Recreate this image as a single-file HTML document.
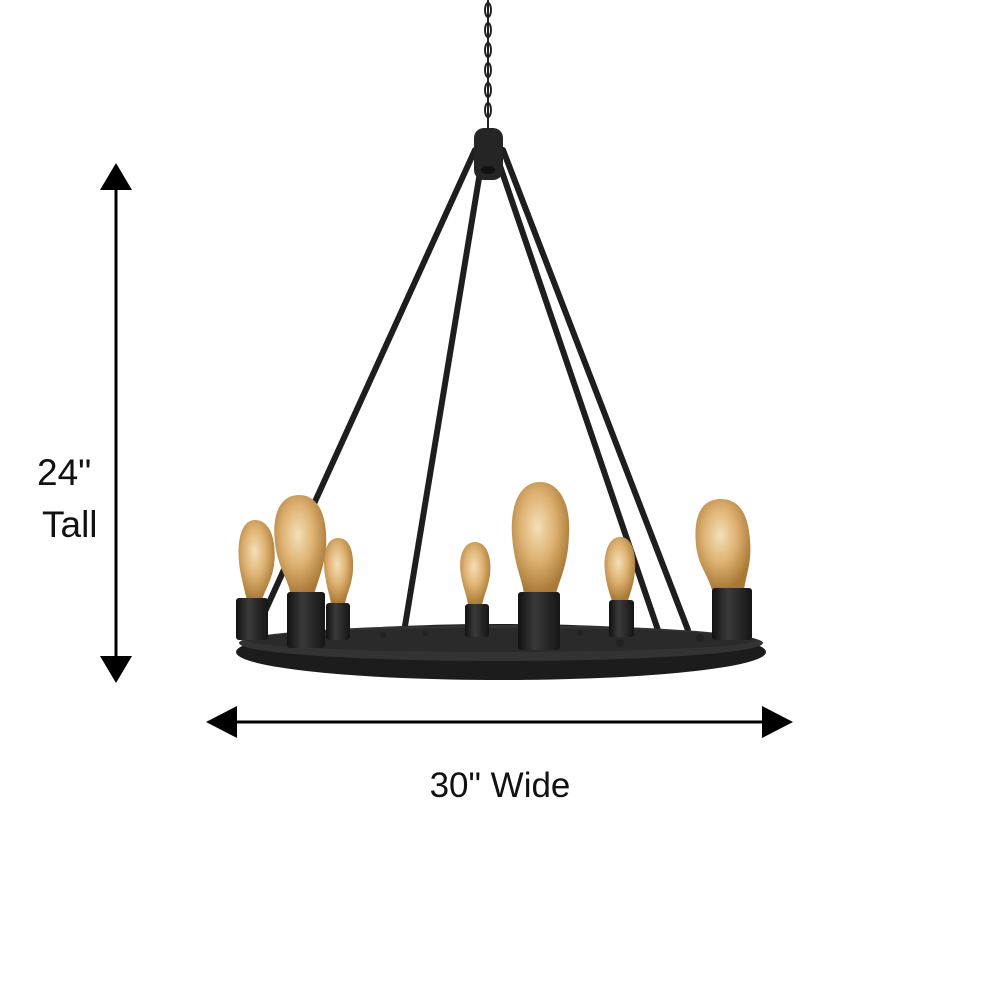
<!DOCTYPE html>
<html><head><meta charset="utf-8"><style>
html,body{margin:0;padding:0;background:#fff}
svg{display:block}
text{font-family:"Liberation Sans",sans-serif;fill:#111}
</style></head><body>
<svg width="1000" height="1000" viewBox="0 0 1000 1000" xmlns="http://www.w3.org/2000/svg">
<defs>
<radialGradient id="bulb" cx="45%" cy="40%" r="60%">
<stop offset="0" stop-color="#f3e0b8"/><stop offset="0.5" stop-color="#deb272"/><stop offset="1" stop-color="#a97835"/>
</radialGradient>
<linearGradient id="sock" x1="0" x2="1"><stop offset="0" stop-color="#111"/><stop offset="0.4" stop-color="#3a3a3a"/><stop offset="1" stop-color="#151515"/></linearGradient>
</defs>
<g stroke="#222" stroke-width="2" fill="none">
<line x1="488" y1="0" x2="488" y2="130"/>
<ellipse cx="488" cy="10" rx="3" ry="7"/><ellipse cx="488" cy="30" rx="3" ry="7"/><ellipse cx="488" cy="50" rx="3" ry="7"/><ellipse cx="488" cy="70" rx="3" ry="7"/><ellipse cx="488" cy="90" rx="3" ry="7"/><ellipse cx="488" cy="110" rx="3" ry="7"/>
</g>
<g stroke="#1e1e1e" stroke-width="6" stroke-linecap="round">
<line x1="475" y1="150" x2="252" y2="640"/>
<line x1="482" y1="160" x2="404" y2="632"/>
<line x1="498" y1="160" x2="660" y2="636"/>
<line x1="503" y1="150" x2="688" y2="630"/>
</g>
<rect x="474" y="128" width="29" height="52" rx="10" fill="#252525"/>
<ellipse cx="488" cy="170" rx="7" ry="4" fill="#111"/>
<ellipse cx="501" cy="652" rx="265" ry="28" fill="#1c1c1c"/>
<ellipse cx="501" cy="643" rx="262" ry="18" fill="#333"/>
<ellipse cx="501" cy="640" rx="255" ry="12" fill="#2a2a2a"/>
<g>
<path d="M255 520 C240 520 236 545 240 570 C243 585 245 592 247 600 L262 600 C265 590 272 580 274 565 C277 540 270 520 255 520 Z" fill="url(#bulb)"/>
<rect x="236" y="598" width="32" height="42" rx="3" fill="url(#sock)"/>
<path d="M299 495 C280 495 270 515 276 550 C280 570 288 580 291 595 L314 595 C318 580 324 568 326 548 C328 515 318 495 299 495 Z" fill="url(#bulb)"/>
<rect x="287" y="592" width="38" height="56" rx="3" fill="url(#sock)"/>
<path d="M338 538 C326 538 322 555 325 575 C327 590 330 595 331 604 L345 604 C347 593 352 585 353 570 C354 552 350 538 338 538 Z" fill="url(#bulb)"/>
<rect x="326" y="603" width="24" height="37" rx="3" fill="url(#sock)"/>
<path d="M475 542 C463 542 458 558 461 575 C463 588 467 595 468 605 L482 605 C484 595 488 588 490 575 C492 558 487 542 475 542 Z" fill="url(#bulb)"/>
<rect x="465" y="604" width="24" height="33" rx="3" fill="url(#sock)"/>
<path d="M540 482 C520 482 510 505 512 535 C514 565 522 578 524 594 L556 594 C560 578 568 565 569 535 C571 505 560 482 540 482 Z" fill="url(#bulb)"/>
<rect x="518" y="592" width="42" height="58" rx="3" fill="url(#sock)"/>
<path d="M620 537 C608 537 603 555 605 572 C607 588 610 594 612 601 L628 601 C630 593 634 585 635 570 C636 552 632 537 620 537 Z" fill="url(#bulb)"/>
<rect x="609" y="600" width="25" height="37" rx="3" fill="url(#sock)"/>
<path d="M721 499 C702 499 693 515 696 545 C698 565 708 575 712 590 L744 590 C746 575 752 562 750 540 C748 512 738 499 721 499 Z" fill="url(#bulb)"/>
<rect x="712" y="588" width="40" height="52" rx="3" fill="url(#sock)"/>
</g>
<g fill="#222">
<circle cx="383" cy="635" r="3"/><circle cx="425" cy="633" r="3"/><circle cx="620" cy="643" r="4"/><circle cx="700" cy="638" r="4"/><circle cx="580" cy="633" r="3"/>
</g>
<line x1="116" y1="185" x2="116" y2="660" stroke="#000" stroke-width="3"/>
<polygon points="116,163 100,190 132,190" fill="#000"/>
<polygon points="116,683 100,656 132,656" fill="#000"/>
<text x="37" y="485" font-size="37">24"</text>
<text x="42" y="537" font-size="37">Tall</text>
<line x1="230" y1="722" x2="770" y2="722" stroke="#000" stroke-width="3"/>
<polygon points="206,722 237,706 237,738" fill="#000"/>
<polygon points="793,722 762,706 762,738" fill="#000"/>
<text x="500" y="797" font-size="35" text-anchor="middle">30" Wide</text>
</svg>
</body></html>
